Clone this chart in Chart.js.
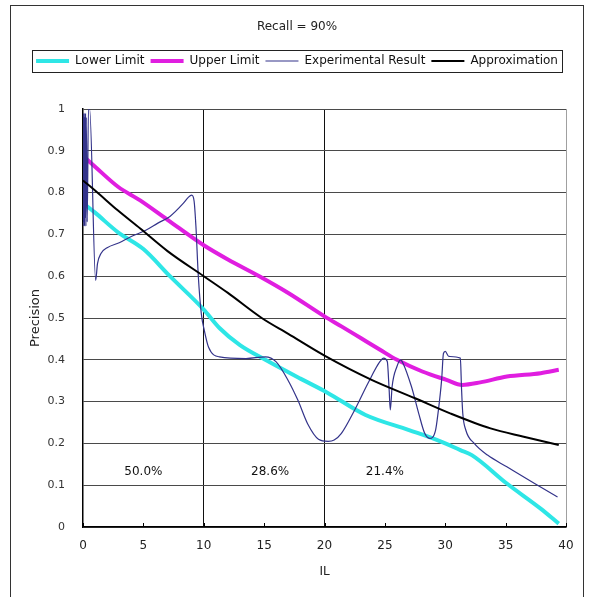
<!DOCTYPE html>
<html>
<head>
<meta charset="utf-8">
<title>Recall = 90%</title>
<script src="https://cdn.jsdelivr.net/npm/chart.js@4.4.1/dist/chart.umd.min.js"></script>
<style>
  html, body { margin: 0; padding: 0; background: #fff; }
  #wrap { width: 591px; height: 597px; }
</style>
</head>
<body>
<div id="wrap"><canvas id="chart" width="591" height="597"></canvas></div>
<script>
const FONT = "'DejaVu Sans', sans-serif";

const xTickLabels = ["0", "5", "10", "15", "20", "25", "30", "35", "40"];
const yTickLabels = ["0", "0.1", "0.2", "0.3", "0.4", "0.5", "0.6", "0.7", "0.8", "0.9", "1"];

// share of cases in each IL band
const regionLabels = ["50.0%", "28.6%", "21.4%"];
const regionLabelX = [5, 15.5, 25];
const regionLabelY = 0.133;

const lowerLimitX = [0, 1, 2.9, 5, 7.2, 10, 11.3, 13, 15.1, 18, 20.2, 23.4, 27, 29.6, 31.25, 32.2, 35.1, 37.9, 39.4];
const lowerLimitY = [0.775, 0.752, 0.705, 0.665, 0.6, 0.52, 0.476, 0.435, 0.4, 0.355, 0.322, 0.268, 0.232, 0.205, 0.184, 0.172, 0.104, 0.044, 0.008];

const upperLimitX = [0, 1, 2.9, 4.7, 7, 10, 12, 14.6, 17, 20, 21.4, 23, 24.6, 26, 28.1, 30.1, 31.4, 32.9, 35.1, 37.9, 39.4];
const upperLimitY = [0.888, 0.862, 0.814, 0.782, 0.735, 0.674, 0.64, 0.6, 0.56, 0.504, 0.48, 0.452, 0.424, 0.4, 0.372, 0.352, 0.34, 0.346, 0.36, 0.368, 0.376];

const experimentalX = [0, 0.03, 0.06, 0.09, 0.12, 0.15, 0.18, 0.21, 0.24, 0.27, 0.35, 0.45, 0.55, 1.05, 1.2, 1.5, 2, 3, 4, 5.2, 6.2, 7.2, 8.3, 8.7, 9, 9.2, 9.35, 9.55, 9.8, 10.05, 10.4, 11.3, 13.5, 15.1, 16, 17, 17.8, 18.6, 19.5, 20.3, 20.8, 21.4, 22.5, 23.6, 24.6, 24.9, 25.2, 25.35, 25.45, 25.6, 26, 26.3, 26.5, 27.2, 27.8, 28.3, 28.7, 29.2, 29.4, 29.7, 29.85, 30, 30.3, 31.25, 31.35, 31.45, 31.7, 32.4, 33.5, 35.1, 37.4, 39.3];
const experimentalY = [0.72, 0.99, 0.73, 0.98, 0.72, 0.99, 0.74, 0.99, 0.72, 0.98, 0.73, 1.0, 1.0, 0.59, 0.63, 0.655, 0.668, 0.68, 0.695, 0.71, 0.727, 0.743, 0.774, 0.788, 0.794, 0.78, 0.72, 0.6, 0.51, 0.47, 0.43, 0.407, 0.403, 0.407, 0.395, 0.35, 0.303, 0.247, 0.21, 0.205, 0.208, 0.224, 0.28, 0.344, 0.396, 0.404, 0.396, 0.33, 0.28, 0.336, 0.384, 0.4, 0.392, 0.336, 0.272, 0.224, 0.212, 0.232, 0.272, 0.352, 0.415, 0.42, 0.408, 0.404, 0.33, 0.272, 0.232, 0.2, 0.172, 0.144, 0.104, 0.072];

const approximationX = [0, 1, 2.9, 4.74, 7, 10, 12, 14.8, 17, 20, 23.9, 27.5, 30.4, 33.75, 36.5, 39.4];
const approximationY = [0.829, 0.805, 0.757, 0.714, 0.66, 0.6, 0.56, 0.5, 0.462, 0.41, 0.352, 0.308, 0.272, 0.236, 0.216, 0.196];

const zip = (xs, ys) => xs.map((x, i) => ({ x, y: ys[i] }));

const framePlugin = {
  id: "frame",
  beforeDraw(chart) {
    const ctx = chart.ctx;
    ctx.save();
    ctx.fillStyle = "#fff";
    ctx.fillRect(0, 0, chart.width, chart.height);
    ctx.strokeStyle = "#333";
    ctx.lineWidth = 1;
    ctx.strokeRect(10.5, 5.5, 573, 620);
    ctx.restore();
  },
};

const legendBoxPlugin = {
  id: "legendBox",
  afterDraw(chart) {
    const boxes = chart.legend && chart.legend.legendHitBoxes;
    if (!boxes || !boxes.length) return;
    const first = boxes[0];
    const last = boxes[boxes.length - 1];
    const left = Math.round(first.left - 4) + 0.5;
    const right = Math.round(last.left + last.width + 4) + 0.5;
    const mid = first.top + first.height / 2;
    const ctx = chart.ctx;
    ctx.save();
    ctx.strokeStyle = "#222";
    ctx.lineWidth = 1;
    ctx.strokeRect(left, Math.round(mid - 11) + 0.5, right - left, 22);
    ctx.restore();
  },
};

const innerTicksPlugin = {
  id: "innerTicks",
  afterDraw(chart) {
    const x = chart.scales.x;
    const ctx = chart.ctx;
    ctx.save();
    ctx.strokeStyle = "#000";
    ctx.lineWidth = 1;
    ctx.beginPath();
    for (const t of x.ticks) {
      const px = Math.round(x.getPixelForValue(t.value)) + 0.5;
      ctx.moveTo(px, x.top);
      ctx.lineTo(px, x.top - 4);
    }
    ctx.stroke();
    ctx.restore();
  },
};

const regionLabelPlugin = {
  id: "regionLabels",
  afterDatasetsDraw(chart) {
    const { ctx, scales } = chart;
    ctx.save();
    ctx.fillStyle = "#111";
    ctx.font = `12px ${FONT}`;
    ctx.textAlign = "center";
    ctx.textBaseline = "middle";
    regionLabels.forEach((label, i) => {
      ctx.fillText(label, scales.x.getPixelForValue(regionLabelX[i]), scales.y.getPixelForValue(regionLabelY));
    });
    ctx.restore();
  },
};

const lineOpts = { pointRadius: 0, pointHoverRadius: 0, fill: false, cubicInterpolationMode: "monotone", pointStyle: "line" };

new Chart(document.getElementById("chart"), {
  type: "line",
  data: {
    datasets: [
      { label: "Lower Limit", data: zip(lowerLimitX, lowerLimitY), borderColor: "#2ee6e6", backgroundColor: "#2ee6e6", borderWidth: 4, order: 4, ...lineOpts },
      { label: "Upper Limit", data: zip(upperLimitX, upperLimitY), borderColor: "#e01ee0", backgroundColor: "#e01ee0", borderWidth: 4, order: 3, ...lineOpts },
      { label: "Experimental Result", data: zip(experimentalX, experimentalY), borderColor: "#33338a", backgroundColor: "#33338a", borderWidth: 1.2, order: 2, ...lineOpts },
      { label: "Approximation", data: zip(approximationX, approximationY), borderColor: "#000", backgroundColor: "#000", borderWidth: 2, order: 1, ...lineOpts },
    ],
  },
  options: {
    responsive: false,
    animation: false,
    devicePixelRatio: 1,
    layout: { padding: { left: 28, right: 25, top: 10, bottom: 0 } },
    plugins: {
      title: {
        display: true,
        text: "Recall = 90%",
        color: "#222",
        font: { family: FONT, size: 12, weight: "normal" },
        padding: { top: 10, bottom: 14.6 },
      },
      // empty subtitle below the legend, keeps the gap above the plot
      subtitle: {
        display: true,
        text: "",
        weight: 500,
        font: { family: FONT, size: 10 },
        padding: { top: 0, bottom: 20 },
      },
      legend: {
        display: true,
        position: "top",
        labels: {
          usePointStyle: true,
          pointStyle: "line",
          pointStyleWidth: 33,
          padding: 6,
          color: "#111",
          font: { family: FONT, size: 12 },
          sort: (a, b) => a.datasetIndex - b.datasetIndex,
        },
      },
      tooltip: { enabled: false },
    },
    scales: {
      x: {
        type: "linear",
        min: 0,
        max: 40,
        ticks: {
          stepSize: 5,
          padding: 12,
          autoSkip: false,
          maxRotation: 0,
          color: "#222",
          font: { family: FONT, size: 12 },
          callback: (v, i) => xTickLabels[i],
        },
        grid: {
          drawTicks: false,
          lineWidth: 1,
          color: (ctx) => {
            const v = ctx.tick && ctx.tick.value;
            if (v === 10 || v === 20) return "#111";
            if (v === 40) return "#a0a0a0";
            return "rgba(0,0,0,0)";
          },
        },
        border: { color: "#000", width: 1.5 },
        title: {
          display: true,
          text: "IL",
          color: "#222",
          font: { family: FONT, size: 12 },
          padding: { top: 0, bottom: 18 },
        },
        afterFit: (s) => { s.height = 70; },
      },
      y: {
        min: 0,
        max: 1,
        ticks: {
          stepSize: 0.1,
          padding: 18,
          color: "#333",
          font: { family: FONT, size: 11 },
          callback: (v, i) => yTickLabels[i],
        },
        grid: { drawTicks: false, color: "#4a4a4a", lineWidth: 1 },
        border: { color: "#000", width: 1.5 },
        title: {
          display: true,
          text: "Precision",
          color: "#222",
          font: { family: FONT, size: 13 },
          padding: { top: 0, bottom: 0 },
        },
        afterFit: (s) => { s.width = 55; },
      },
    },
  },
  plugins: [framePlugin, legendBoxPlugin, innerTicksPlugin, regionLabelPlugin],
});
</script>
</body>
</html>
